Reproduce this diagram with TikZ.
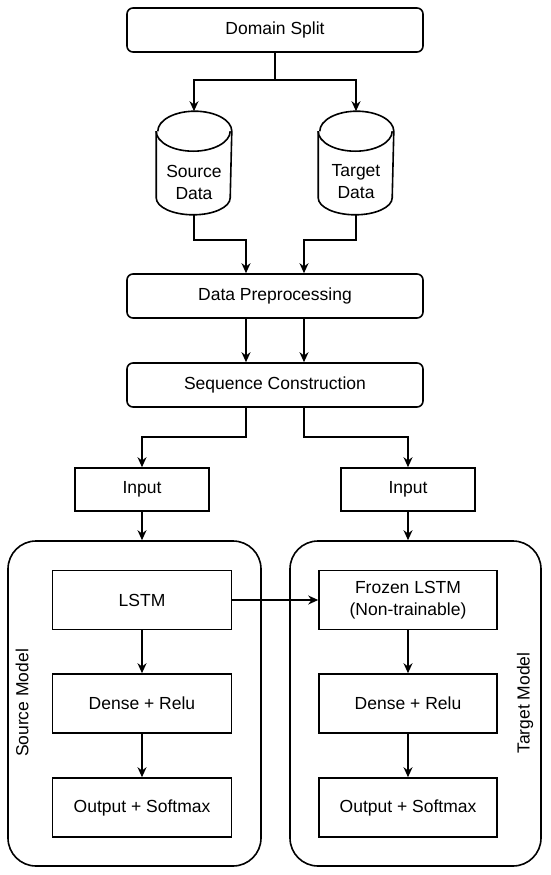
\documentclass[tikz,border=0pt]{standalone}
\usepackage{fontspec}
\setmainfont{Liberation Sans}
\usetikzlibrary{arrows.meta, positioning}

\begin{document}
\begin{tikzpicture}[x=1pt, y=-1pt]

\tikzset{every node/.style = {font=\fontsize{17.5}{22}\selectfont}}
\tikzset{block/.style = {shape=rectangle, draw, line width=1.6pt, minimum height=44pt, align=center}}
\tikzset{rblock/.style = {block, rounded corners=6pt, minimum width=296pt}}
\tikzset{layer/.style = {block, minimum width=179pt, minimum height=59pt}}
\tikzset{store/.style = {shape=rectangle, minimum height=102pt, minimum width=74pt, inner sep=0pt}}
\tikzset{model/.style = {shape=rectangle, draw, line width=1.6pt, rounded corners=28pt,
  minimum height=325pt}}
\tikzset{every path/.style = {line width=1.6pt, -{Stealth[length=10pt, width=9pt]}}}

\useasboundingbox[draw=none, -] (0,0) rectangle (550,875);

% containers
\node[model, minimum width=253pt] (srcM) at (134.5,703.5) {};
\node[model, minimum width=251pt] (tgtM) at (415.5,703.5) {};
\node[rotate=90] (srcT) at (22,703) {Source Model};
\node[rotate=90] (tgtT) at (525,703) {Target Model};

% vertices
\node[rblock] (dom) at (275,30) {Domain Split};
\node[store] (src) at (194,163) {};
\node[store] (tgt) at (356,163) {};
\node[align=center] (srcL) at (194,182) {Source\\Data};
\node[align=center] (tgtL) at (356,182) {Target\\Data};
\node[rblock] (prep) at (275,296) {Data Preprocessing};
\node[rblock] (seq) at (275,385) {Sequence Construction};
\node[block, minimum width=134pt, minimum height=43pt] (inL) at (142,489.5) {Input};
\node[block, minimum width=134pt, minimum height=43pt] (inR) at (408,489.5) {Input};
\node[layer] (lstm) at (142,600) {LSTM};
\node[layer] (dnsL) at (142,703.5) {Dense + Relu};
\node[layer] (outL) at (142,807.5) {Output + Softmax};
\node[layer, minimum width=178pt] (frz) at (408,600) {Frozen LSTM\\(Non-trainable)};
\node[layer, minimum width=178pt] (dnsR) at (408,703.5) {Dense + Relu};
\node[layer, minimum width=178pt] (outR) at (408,807.5) {Output + Softmax};

% cylinders
\foreach \db in {src,tgt} {
  \draw[-] ([yshift=-20pt]\db.north west) -- ([yshift=17pt]\db.south west)
    arc[start angle=180, end angle=360, x radius=37pt, y radius=17pt]
    -- ([yshift=-20pt]\db.north east)
    arc[start angle=0, end angle=180, x radius=37pt, y radius=20pt];
  \draw[-] ([yshift=-20pt]\db.north west)
    arc[start angle=180, end angle=360, x radius=37pt, y radius=20pt];
}

\coordinate (split) at (275,80);
\coordinate (mL) at (246,240);
\coordinate (mR) at (304,240);
\coordinate (sL) at (246,437);
\coordinate (sR) at (304,437);

%edges
\draw[-] (dom.south) -- (split);
\draw (split) -| (src.north);
\draw (split) -| (tgt.north);
\draw (src.south) |- (mL) -- (mL |- prep.north);
\draw (tgt.south) |- (mR) -- (mR |- prep.north);
\draw (mL |- prep.south) -- (mL |- seq.north);
\draw (mR |- prep.south) -- (mR |- seq.north);
\draw (mL |- seq.south) -- (sL) -| (inL.north);
\draw (mR |- seq.south) -- (sR) -| (inR.north);
\draw (inL.south) -- (inL.south |- srcM.north);
\draw (inR.south) -- (inR.south |- tgtM.north);
\draw (lstm) -- (dnsL);
\draw (dnsL) -- (outL);
\draw (frz) -- (dnsR);
\draw (dnsR) -- (outR);
\draw (lstm) -- (frz);
\end{tikzpicture}
\end{document}
